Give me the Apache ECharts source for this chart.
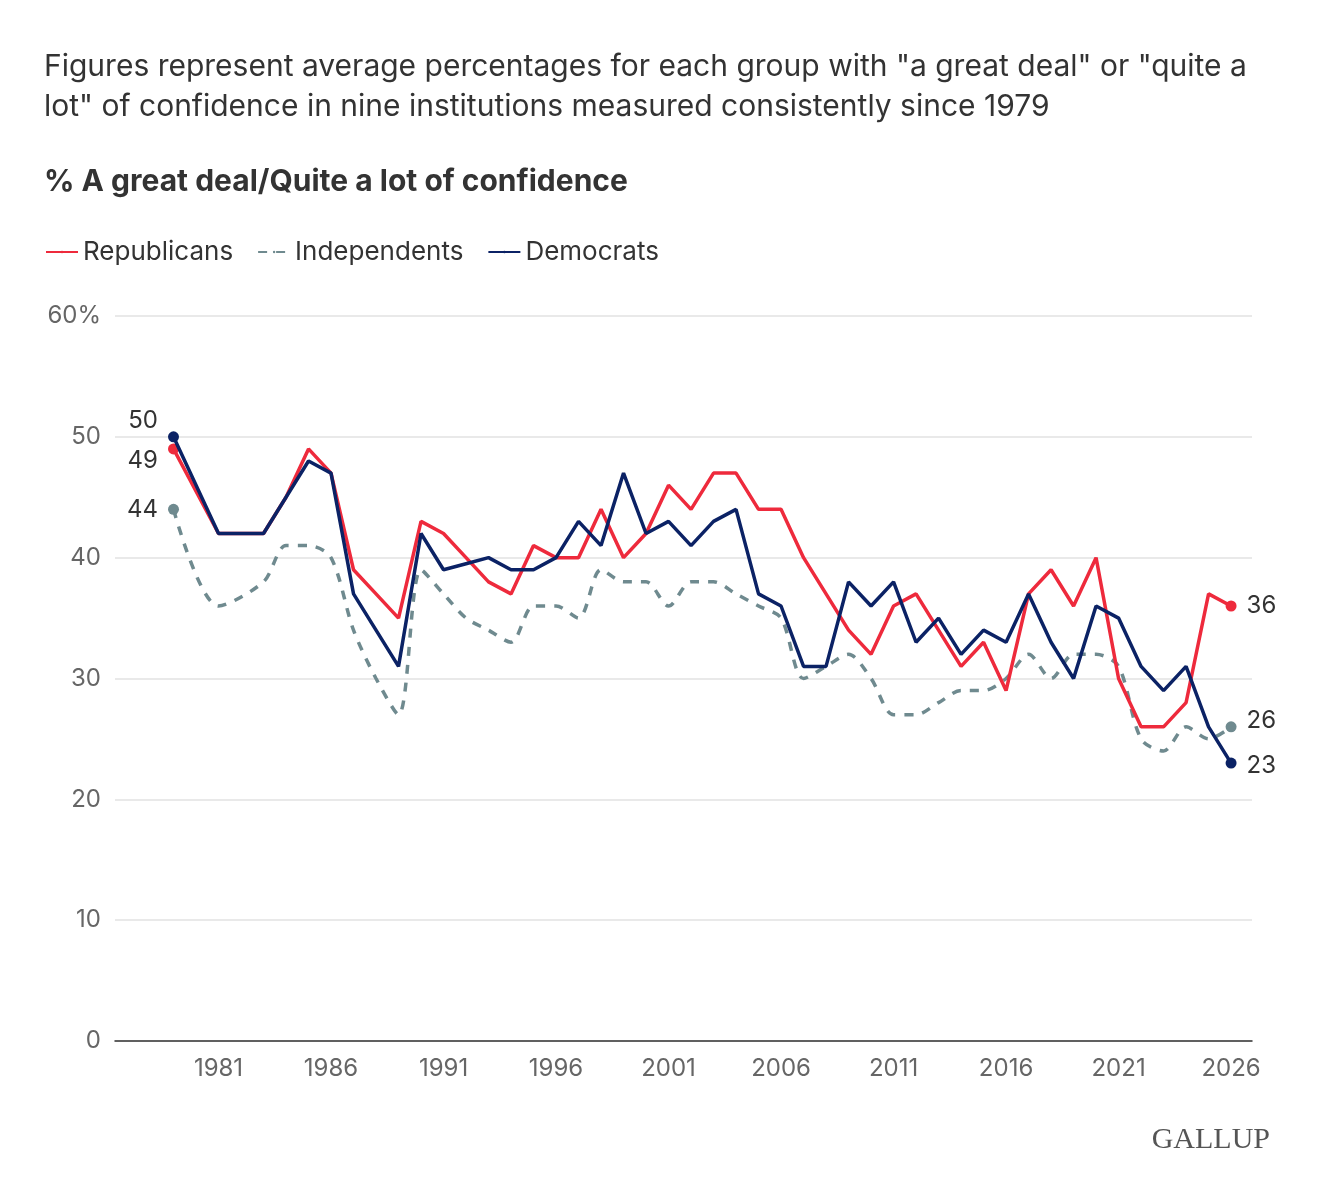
<!DOCTYPE html>
<html><head><meta charset="utf-8">
<script src="https://cdn.jsdelivr.net/npm/echarts@6/dist/echarts.min.js"></script>
<style>body{margin:0;background:#fff}#c{width:1320px;height:1200px}</style></head>
<body><div id="c"></div>
<script>
const years = [1979,1981,1983,1984,1985,1986,1987,1988,1989,1990,1991,1992,1993,1994,1995,1996,1997,1998,1999,2000,2001,2002,2003,2004,2005,2006,2007,2008,2009,2010,2011,2012,2013,2014,2015,2016,2017,2018,2019,2020,2021,2022,2023,2024,2025,2026];
const republicans = [49,42,42,45,49,47,39,37,35,43,42,40,38,37,41,40,40,44,40,42,46,44,47,47,44,44,40,37,34,32,36,37,34,31,33,29,37,39,36,40,30,26,26,28,37,36];
const independents = [44,36,38,41,41,40,34,30,27,39,37,35,34,33,36,36,35,39,38,38,36,38,38,37,36,35,30,31,32,30,27,27,28,29,29,30,32,30,32,32,31,25,24,26,25,26];
const democrats = [50,42,42,45,48,47,37,34,31,42,39,39.5,40,39,39,40,43,41,47,42,43,41,43,44,37,36,31,31,38,36,38,33,35,32,34,33,37,33,30,36,35,31,29,31,26,23];
const xTicks = [1981,1986,1991,1996,2001,2006,2011,2016,2021,2026];

const ff = 'Inter, "Noto Sans", sans-serif';
function build(vals, firstOff, lastOff){
  return vals.map((v,i)=>{
    const d = {value:[years[i], v]};
    if(i===0 || i===vals.length-1){
      d.symbol='circle'; d.symbolSize=11;
      d.label={show:true, position: i===0?'left':'right', offset: i===0?firstOff:lastOff,
        formatter: String(v), fontSize:24, color:'#333', fontFamily:ff, distance:10};
    }
    return d;
  });
}
const chart = echarts.init(document.getElementById('c'));
chart.setOption({
  backgroundColor:'#fff',
  animation:false,
  title:[
    {text:'Figures represent average percentages for each group with "a great deal" or "quite a\nlot" of confidence in nine institutions measured consistently since 1979',
     left:39, top:42, textStyle:{fontSize:30, fontWeight:'normal', color:'#333', fontFamily:ff, lineHeight:40}},
    {text:'% A great deal/Quite a lot of confidence', left:39, top:162,
     textStyle:{fontSize:30, fontWeight:'bold', color:'#333', fontFamily:ff}},
    {text:'GALLUP', right:45, top:1120, textStyle:{fontSize:30, fontWeight:'normal', color:'#555', fontFamily:'"Liberation Serif", serif'}}
  ],
  legend:{left:40, top:234, itemWidth:32, itemHeight:3, itemGap:24,
    textStyle:{fontSize:26, color:'#333', fontFamily:ff},
    data:['Republicans','Independents','Democrats']},
  grid:{left:115, right:68, top:316, bottom:159},
  xAxis:{type:'value', min:1976.4, max:2026.93,
    axisLine:{show:true, lineStyle:{color:'#333', width:1.5}},
    axisTick:{show:false}, splitLine:{show:false},
    axisLabel:{customValues:xTicks, fontSize:24, color:'#666', fontFamily:ff, margin:16, formatter:v=>String(v)}},
  yAxis:{type:'value', min:0, max:60, interval:10,
    axisLine:{show:false}, axisTick:{show:false},
    splitLine:{lineStyle:{color:'#e2e2e2', width:1.5}},
    axisLabel:{fontSize:24, color:'#666', fontFamily:ff, margin:14, formatter:v=>v===60?'60%':String(v)}},
  series:[
    {name:'Republicans', type:'line', data:build(republicans,[0,12],[0,0]), color:'#EE2A3C',
     symbol:'none', lineStyle:{width:3.5}, z:3},
    {name:'Independents', type:'line', data:build(independents,[0,0],[0,-6]), color:'#6F8A8F',
     smooth:0.3, symbol:'none', lineStyle:{width:3.5, type:[9,9]}, z:2},
    {name:'Democrats', type:'line', data:build(democrats,[0,-16],[0,3]), color:'#0B2265',
     symbol:'none', lineStyle:{width:3.5}, z:4}
  ]
});
</script></body></html>
